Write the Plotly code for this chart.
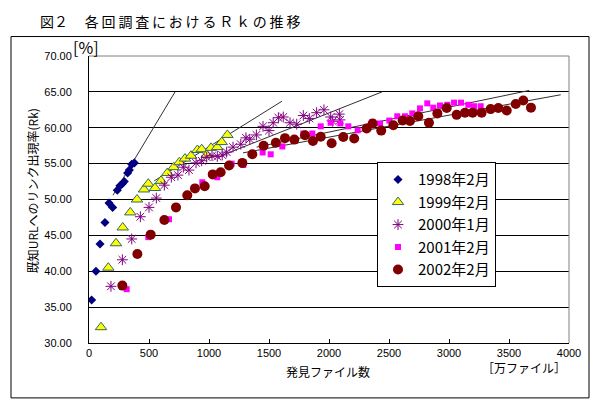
import plotly.graph_objects as go

# ---- data ----
x_1998 = [22, 58, 92, 133, 167, 197, 236, 258, 278, 294, 322, 336, 356, 378]
y_1998 = [36.0, 40.0, 43.8, 46.8, 49.5, 48.9, 51.3, 51.9, 52.2, 52.5, 53.7, 54.1, 54.9, 55.1]

x_1999 = [100, 161, 225, 281, 344, 400, 458, 494, 550, 600, 653, 705, 753, 800, 850,
          903, 939, 981, 1017, 1069, 1106, 1153]
y_1999 = [32.2, 40.5, 43.9, 46.1, 48.2, 50.0, 51.4, 52.2, 51.6, 52.6, 53.7, 54.5, 55.2,
          55.7, 56.1, 56.9, 57.0, 56.2, 57.2, 57.3, 58.0, 59.0]

x_2000 = [183, 278, 356, 428, 500, 561, 628, 686, 741, 786, 833, 892, 939, 981, 1025,
          1069, 1110, 1147, 1200, 1265, 1308, 1340, 1395, 1450, 1500, 1535, 1578, 1619,
          1675, 1731, 1786, 1836, 1897, 1958, 2014, 2031, 2086, 2092]
y_2000 = [37.9, 41.6, 44.5, 47.6, 48.9, 50.2, 52.0, 53.1, 53.4, 54.5, 54.1, 55.1, 55.4,
          55.9, 56.1, 56.0, 56.2, 56.6, 57.3, 57.7, 58.6, 58.4, 59.0, 60.2, 59.6, 60.7,
          61.4, 61.5, 60.7, 60.5, 61.7, 61.3, 62.1, 62.5, 61.5, 60.9, 61.9, 61.1]

x_2001 = [314, 494, 667, 944, 1069, 1189, 1286, 1447, 1514, 1611, 1786, 1861, 1931, 2014,
          2094, 2161, 2239, 2361, 2425, 2503, 2569, 2633, 2694, 2758, 2819, 2869, 2925,
          2986, 3042, 3100, 3161, 3208, 3264]
y_2001 = [37.5, 44.75, 47.25, 52.4, 53.1, 55.0, 54.8, 56.55, 56.3, 57.4, 59.2, 59.2, 60.2,
          60.7, 60.6, 60.2, 59.65, 60.8, 60.6, 61.0, 61.6, 61.6, 62.0, 62.7, 63.4, 62.8,
          63.1, 63.2, 63.5, 63.5, 63.2, 63.0, 63.0]

x_2002 = [278, 403, 514, 628, 725, 819, 883, 964, 1031, 1097, 1167, 1278, 1361, 1455, 1557,
          1633, 1711, 1800, 1866, 1931, 2022, 2119, 2210, 2314, 2364, 2435, 2536, 2614,
          2675, 2744, 2833, 2903, 2981, 3064, 3133, 3197, 3272, 3347, 3411, 3481, 3556,
          3619, 3683]
y_2002 = [38.0, 42.4, 45.1, 47.15, 48.9, 50.6, 51.55, 51.85, 53.5, 53.8, 54.75, 55.1, 56.3,
          57.5, 57.9, 58.55, 58.35, 58.95, 58.15, 58.75, 57.85, 58.7, 58.5, 59.9, 60.6,
          59.6, 60.35, 61.0, 60.95, 61.6, 60.7, 62.0, 62.75, 61.8, 62.1, 62.1, 62.1, 62.6,
          62.75, 62.4, 63.3, 63.8, 62.8]

# trend lines (start, end)
trend_x = {"1998": [200, 717], "1999": [544, 1608], "2000": [1117, 2442],
           "2001": [1397, 3669], "2002": [1283, 3931]}
trend_y = {"1998": [50.6, 65.0], "1999": [52.6, 63.7], "2000": [56.2, 65.0],
           "2001": [57.3, 65.2], "2002": [56.5, 64.6]}

series_names = ["1998年2月", "1999年2月", "2000年1月", "2001年2月", "2002年2月"]
x_ticks = [0, 500, 1000, 1500, 2000, 2500, 3000, 3500, 4000]
y_ticks = [30, 35, 40, 45, 50, 55, 60, 65, 70]

FONT = "Noto Sans CJK JP"
NUM_FONT = "Liberation Sans"

# the page body adds an 8px offset; work in screen pixels and convert
OFF = 8
FIG_W, FIG_H = 600 - OFF, 409 - OFF

fig = go.Figure()

for key in ["1998", "1999", "2000", "2001", "2002"]:
    fig.add_trace(go.Scatter(x=trend_x[key], y=trend_y[key], mode="lines",
                             line=dict(color="#303030", width=1),
                             showlegend=False, hoverinfo="skip"))

styles = [
    dict(symbol="diamond", size=7, color="#000080"),
    dict(symbol="triangle-up", size=10, color="#FFFF00", line=dict(color="#336666", width=1)),
    dict(symbol="asterisk-open", size=9, color="#800080", line=dict(color="#800080", width=1)),
    dict(symbol="square", size=6, color="#FF00FF"),
    dict(symbol="circle", size=10, color="#800000"),
]
data = [(x_1998, y_1998), (x_1999, y_1999), (x_2000, y_2000), (x_2001, y_2001), (x_2002, y_2002)]
for i, (xs, ys) in enumerate(data):
    fig.add_trace(go.Scatter(x=xs, y=ys, mode="markers", name=series_names[i],
                             marker=styles[i]))

# plot area in screen pixels: x 89..569, y 55.5..343
L, R, T, B = 89, 569, 55.5, 343
W, H = R - L, B - T

def px_x(p):
    return (p - L) / W

def px_y(p):
    return (B - p) / H

fig.update_layout(
    width=FIG_W, height=FIG_H,
    margin=dict(l=L - OFF, r=600 - R, t=T - OFF, b=409 - B, autoexpand=False),
    paper_bgcolor="white", plot_bgcolor="white",
    font=dict(family=FONT, color="black"),
    showlegend=True,
    legend=dict(x=px_x(377), y=px_y(162), xanchor="left", yanchor="top",
                bgcolor="white", bordercolor="black", borderwidth=1,
                font=dict(family=FONT, size=15, color="black"),
                traceorder="normal", itemwidth=30),
    xaxis=dict(range=[0, 4000], tickvals=x_ticks, ticktext=[str(v) for v in x_ticks],
               showgrid=False, zeroline=False, showline=True, linecolor="black", linewidth=1,
               ticks="inside", ticklen=4, tickcolor="black",
               tickfont=dict(family=NUM_FONT, size=11, color="black")),
    yaxis=dict(range=[30, 70], tickvals=y_ticks, ticktext=[f"{v:.2f}" for v in y_ticks],
               showgrid=True, gridcolor="black", gridwidth=1, zeroline=False,
               showline=True, linecolor="black", linewidth=1, ticks="",
               ticklabelstandoff=14,
               tickfont=dict(family=NUM_FONT, size=11, color="black")),
)

shapes = [
    dict(type="rect", xref="paper", yref="paper", x0=px_x(11), x1=px_x(589),
         y0=px_y(398), y1=px_y(36), line=dict(color="black", width=1), layer="below"),
    dict(type="line", xref="paper", yref="paper", x0=0, x1=1, y0=1, y1=1,
         line=dict(color="#808080", width=1), layer="above"),
    dict(type="line", xref="paper", yref="paper", x0=1, x1=1, y0=0, y1=1,
         line=dict(color="#808080", width=1), layer="above"),
]
fig.update_layout(shapes=shapes)

ann = [
    dict(text="図２\u3000\u2009各\u2009回\u2009調\u2009査\u2009に\u2009お\u2009け\u2009る\u2009Ｒ\u2009ｋ\u2009の\u2009推\u2009移",
         x=px_x(38), y=px_y(OFF), xanchor="left", yanchor="top",
         font=dict(family=FONT, size=14, color="black")),
    dict(text="既知URLへのリンク出現率(Rk)", textangle=-90, x=px_x(32), y=px_y(191),
         xanchor="center", yanchor="middle", font=dict(family=FONT, size=12, color="black")),
    dict(text="[%]", x=px_x(86), y=px_y(46), xanchor="center", yanchor="middle",
         font=dict(family=FONT, size=16, color="black")),
    dict(text="発見ファイル数", x=px_x(328), y=px_y(372), xanchor="center", yanchor="middle",
         font=dict(family=FONT, size=12, color="black")),
    dict(text="［万ファイル］", x=px_x(568), y=px_y(368), xanchor="right", yanchor="middle",
         font=dict(family=FONT, size=12, color="black")),
]
for a in ann:
    a.update(xref="paper", yref="paper", showarrow=False)
fig.update_layout(annotations=ann)

fig.write_html("out.html")
